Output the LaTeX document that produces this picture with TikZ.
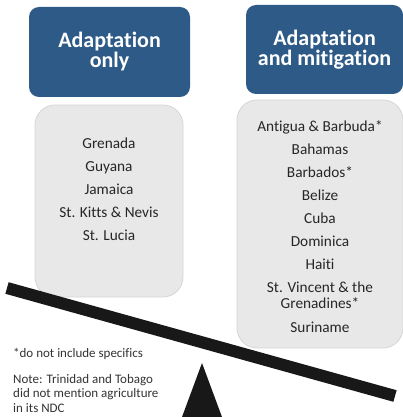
\documentclass[tikz,border=0pt]{standalone}
\usepackage{fontspec}
\setmainfont{Carlito}[Ligatures=NoCommon]
\usepackage{tikz}
\usetikzlibrary{positioning}

\definecolor{hdrblue}{RGB}{45,90,134}
\definecolor{boxgray}{RGB}{232,232,232}
\definecolor{boxline}{RGB}{214,214,214}
\definecolor{beamblack}{RGB}{24,24,24}

\tikzset{
	hdr/.style={rectangle, rounded corners=10pt, fill=hdrblue, text=white, align=center,
		font=\bfseries\fontsize{22}{20}\selectfont, inner sep=0pt},
	listbox/.style={rectangle, rounded corners=20pt, fill=boxgray, draw=boxline, line width=0.8pt},
	item/.style={anchor=base, align=center, text=black!85, font=\fontsize{15.3}{16}\selectfont, inner sep=0pt},
	note/.style={anchor=base west, align=left, text=black!80, font=\fontsize{13}{14.5}\selectfont, inner sep=0pt},
	beam/.style={line width=12pt, draw=beamblack}
}

\begin{document}
\begin{tikzpicture}[x=1pt, y=-1pt]
	\useasboundingbox (0,0) rectangle (403,417);
	% headers
	\node[hdr, minimum width=161pt, minimum height=90pt] (hdrA) at (109.5,52) {Adaptation\\only};
	\node[hdr, minimum width=157pt, minimum height=89pt] (hdrAM) at (324.5,49.5) {Adaptation\\and mitigation};
	% country boxes
	\node[listbox, minimum width=148pt, minimum height=192pt] (listA) at (109,201) {};
	\node[listbox, minimum width=166pt, minimum height=248pt] (listAM) at (320,224) {};
	% (y = baseline of the last line)
	\foreach \name/\y [count=\i] in {Grenada/148, Guyana/171, Jamaica/194, St. Kitts \& Nevis/217, St. Lucia/240}
		\node[item] (a-\i) at (109,\y) {\name};
	\foreach \name/\y [count=\i] in {Antigua \& Barbuda*/131, Bahamas/154, Barbados*/177, Belize/200,
		Cuba/223, Dominica/246, Haiti/269, St. Vincent \& the\\Grenadines*/308, Suriname/332}
		\node[item] (m-\i) at (320,\y) {\name};
	% seesaw
	\coordinate (beamL) at (7,288);
	\coordinate (beamR) at (395,396);
	\draw[beam] (beamL) -- (beamR);
	\coordinate (tip) at (202,363);
	\fill[beamblack] (tip) -- (222,417) -- (182,417) -- cycle;
	% notes
	\node[note] (star) at (13,357) {*do not include specifics};
	\node[note] (tt) at (13,412) {Note: Trinidad and Tobago\\did not mention agriculture\\in its NDC};
\end{tikzpicture}
\end{document}
